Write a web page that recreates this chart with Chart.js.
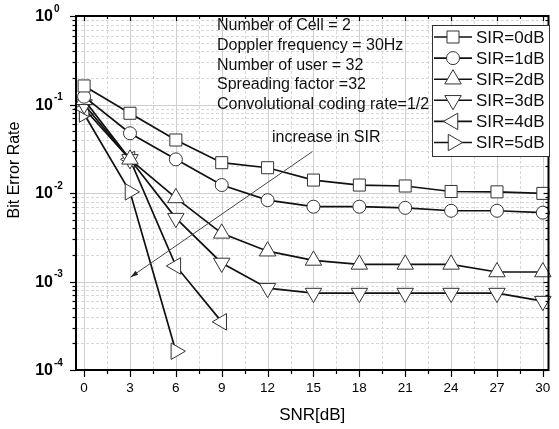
<!DOCTYPE html>
<html>
<head>
<meta charset="utf-8">
<script src="https://cdn.jsdelivr.net/npm/chart.js@4.4.1/dist/chart.umd.min.js"></script>
<style>
  html, body { margin: 0; padding: 0; background: #fff; }
  #wrap { width: 559px; height: 429px; position: relative; }
</style>
</head>
<body>
<div id="wrap"><canvas id="berChart"></canvas></div>
<script>
// SNR points (dB) and BER per SIR value
const snr = [0, 3, 6, 9, 12, 15, 18, 21, 24, 27, 30];
const sir0 = [0.162, 0.0796, 0.0397, 0.022, 0.0193, 0.014, 0.0123, 0.012, 0.0104, 0.0103, 0.0099];
const sir1 = [0.1225, 0.0473, 0.024, 0.0123, 0.0083, 0.0070, 0.0070, 0.0068, 0.0063, 0.0063, 0.0060];
const sir2 = [0.113, 0.024, 0.0088, 0.0035, 0.0022, 0.00173, 0.00156, 0.00156, 0.00156, 0.00128, 0.00128];
const sir3 = [0.1, 0.024, 0.0052, 0.00162, 0.00084, 0.00074, 0.00074, 0.00074, 0.00074, 0.00074, 0.0006];
const sir4 = [0.09, 0.024, 0.0015, 0.00035];
const sir5 = [0.078, 0.0103, 0.000163];

const seriesLabels = ['SIR=0dB', 'SIR=1dB', 'SIR=2dB', 'SIR=3dB', 'SIR=4dB', 'SIR=5dB'];
const seriesValues = [sir0, sir1, sir2, sir3, sir4, sir5];

const xTicks = [0, 3, 6, 9, 12, 15, 18, 21, 24, 27, 30];
const yDecades = [-4, -3, -2, -1, 0];

const infoLines = [
    'Number of Cell = 2',
    'Doppler frequency = 30Hz',
    'Number of user = 32',
    'Spreading factor =32',
    'Convolutional coding rate=1/2'
];
const arrowText = 'increase in SIR';

// marker look for each series
const markers = [
    { style: 'rect', rot: 0, r: 8.5 },
    { style: 'circle', rot: 0, r: 6.5 },
    { style: 'triangle', rot: 0, r: 9.5 },
    { style: 'triangle', rot: 180, r: 9.5 },
    { style: 'triangle', rot: 270, r: 9.5 },
    { style: 'triangle', rot: 90, r: 9.5 }
];

const FONT = '"Liberation Sans", Arial, Helvetica, sans-serif';

function drawMarker(ctx, m, x, y) {
    ctx.save();
    ctx.translate(x, y);
    ctx.rotate(m.rot * Math.PI / 180);
    ctx.beginPath();
    if (m.style === 'rect') {
        const s = m.r * Math.SQRT1_2;
        ctx.rect(-s, -s, 2 * s, 2 * s);
    } else if (m.style === 'circle') {
        ctx.arc(0, 0, m.r, 0, Math.PI * 2);
    } else {
        for (let k = 0; k < 3; k++) {
            const a = k * 2 * Math.PI / 3;
            const px = Math.sin(a) * m.r;
            const py = -Math.cos(a) * m.r;
            if (k === 0) ctx.moveTo(px, py); else ctx.lineTo(px, py);
        }
        ctx.closePath();
    }
    ctx.fillStyle = '#fff';
    ctx.fill();
    ctx.lineWidth = 1;
    ctx.strokeStyle = '#333';
    ctx.stroke();
    ctx.restore();
}

function minorXs() {
    const out = [];
    for (let v = 1.5; v < 30; v += 3) out.push(v);
    return out;
}
function minorYs() {
    const out = [];
    for (let e = -4; e < 0; e++) {
        for (let k = 2; k <= 9; k++) out.push(k * Math.pow(10, e));
    }
    return out;
}

const gridPlugin = {
    id: 'gridPlugin',
    beforeDatasetsDraw(chart) {
        const { ctx, chartArea: a, scales: { x, y } } = chart;
        ctx.save();
        ctx.lineWidth = 1;
        // minor dashed grid
        ctx.strokeStyle = '#d8d8d8';
        ctx.setLineDash([3, 2]);
        minorXs().forEach(v => {
            const px = Math.round(x.getPixelForValue(v)) + 0.5;
            ctx.beginPath(); ctx.moveTo(px, a.top); ctx.lineTo(px, a.bottom); ctx.stroke();
        });
        minorYs().forEach(v => {
            const py = Math.round(y.getPixelForValue(v)) + 0.5;
            ctx.beginPath(); ctx.moveTo(a.left, py); ctx.lineTo(a.right, py); ctx.stroke();
        });
        // major solid grid
        ctx.setLineDash([]);
        ctx.strokeStyle = '#cfcfcf';
        xTicks.forEach(v => {
            const px = Math.round(x.getPixelForValue(v)) + 0.5;
            ctx.beginPath(); ctx.moveTo(px, a.top); ctx.lineTo(px, a.bottom); ctx.stroke();
        });
        yDecades.forEach(e => {
            const py = Math.round(y.getPixelForValue(Math.pow(10, e))) + 0.5;
            ctx.beginPath(); ctx.moveTo(a.left, py); ctx.lineTo(a.right, py); ctx.stroke();
        });
        ctx.restore();
    }
};

const decorPlugin = {
    id: 'decorPlugin',
    afterDatasetsDraw(chart) {
        const { ctx, chartArea: a, scales: { x, y } } = chart;
        ctx.save();
        ctx.strokeStyle = '#000';
        ctx.fillStyle = '#000';

        // ticks
        ctx.lineWidth = 1.2;
        const tick = (x1, y1, x2, y2) => { ctx.beginPath(); ctx.moveTo(x1, y1); ctx.lineTo(x2, y2); ctx.stroke(); };
        xTicks.forEach(v => {
            const px = Math.round(x.getPixelForValue(v)) + 0.5;
            tick(px, a.bottom, px, a.bottom + 7);
            tick(px, a.top, px, a.top + 5);
        });
        minorXs().forEach(v => {
            const px = Math.round(x.getPixelForValue(v)) + 0.5;
            tick(px, a.bottom, px, a.bottom + 4);
            tick(px, a.top, px, a.top + 3);
        });
        yDecades.forEach(e => {
            const py = Math.round(y.getPixelForValue(Math.pow(10, e))) + 0.5;
            tick(a.left - 6, py, a.left, py);
            tick(a.right - 5, py, a.right, py);
        });
        minorYs().forEach(v => {
            const py = Math.round(y.getPixelForValue(v)) + 0.5;
            tick(a.left - 3.5, py, a.left, py);
            tick(a.right - 3, py, a.right, py);
        });

        // frame
        ctx.lineWidth = 2;
        ctx.strokeRect(a.left, a.top, a.right - a.left, a.bottom - a.top);

        // x tick labels
        ctx.font = '13.5px ' + FONT;
        ctx.textAlign = 'center';
        ctx.textBaseline = 'middle';
        xTicks.forEach(v => ctx.fillText(String(v), x.getPixelForValue(v), a.bottom + 18));

        // y tick labels 10^n
        yDecades.forEach(e => {
            const py = y.getPixelForValue(Math.pow(10, e));
            const exp = e === 0 ? '0' : '-' + Math.abs(e);
            ctx.textBaseline = 'middle';
            ctx.font = 'bold 16px ' + FONT;
            ctx.textAlign = 'right';
            ctx.fillText('10', 53, py + 1);
            ctx.font = 'bold 10px ' + FONT;
            ctx.textAlign = 'left';
            ctx.fillText(exp, 54, py - 7);
        });

        // axis titles
        ctx.font = '17px ' + FONT;
        ctx.textAlign = 'center';
        ctx.textBaseline = 'middle';
        ctx.fillText('SNR[dB]', (a.left + a.right) / 2, 415);
        ctx.save();
        ctx.translate(15, 170);
        ctx.rotate(-Math.PI / 2);
        ctx.font = '16px ' + FONT;
        ctx.fillText('Bit Error Rate', 0, 0);
        ctx.restore();

        // parameter text block
        ctx.font = '16px ' + FONT;
        ctx.textAlign = 'left';
        ctx.fillStyle = '#111';
        infoLines.forEach((t, i) => ctx.fillText(t, 217, 26 + i * 19.6));

        // arrow annotation
        ctx.fillText(arrowText, 272, 138);
        const ax1 = x.getPixelForValue(14.93), ay1 = y.getPixelForValue(0.0294);
        const ax2 = x.getPixelForValue(3.04), ay2 = y.getPixelForValue(0.00112);
        ctx.strokeStyle = '#444';
        ctx.lineWidth = 1;
        tick(ax1, ay1, ax2, ay2);
        const ang = Math.atan2(ay2 - ay1, ax2 - ax1);
        ctx.beginPath();
        ctx.moveTo(ax2, ay2);
        ctx.lineTo(ax2 - 8 * Math.cos(ang - 0.3), ay2 - 8 * Math.sin(ang - 0.3));
        ctx.lineTo(ax2 - 8 * Math.cos(ang + 0.3), ay2 - 8 * Math.sin(ang + 0.3));
        ctx.closePath();
        ctx.fillStyle = '#222';
        ctx.fill();

        // legend
        const lx = 432, ly = 25, lw = 117, lh = 131;
        ctx.fillStyle = '#fff';
        ctx.fillRect(lx, ly, lw, lh);
        ctx.strokeStyle = '#333';
        ctx.lineWidth = 1;
        ctx.strokeRect(lx + 0.5, ly + 0.5, lw, lh);
        ctx.font = '17px ' + FONT;
        ctx.textAlign = 'left';
        ctx.textBaseline = 'middle';
        seriesLabels.forEach((lab, i) => {
            const ry = ly + 12 + i * 21.1;
            ctx.strokeStyle = '#111';
            ctx.lineWidth = 1.6;
            tick(434, ry, 472, ry);
            drawMarker(ctx, markers[i], 453, ry);
            ctx.fillStyle = '#111';
            ctx.fillText(lab, 476, ry + 1);
        });
        ctx.restore();
    }
};

const datasets = seriesValues.map((vals, i) => ({
    label: seriesLabels[i],
    data: vals.map((v, j) => ({ x: snr[j], y: v })),
    borderColor: '#111',
    borderWidth: 1.7,
    pointStyle: markers[i].style,
    pointRotation: markers[i].rot,
    pointRadius: markers[i].r,
    pointBackgroundColor: '#fff',
    pointBorderColor: '#333',
    pointBorderWidth: 1,
    tension: 0,
    clip: false
}));

new Chart(document.getElementById('berChart').getContext('2d'), {
    type: 'line',
    data: { datasets },
    options: {
        responsive: true,
        maintainAspectRatio: false,
        devicePixelRatio: 1,
        animation: false,
        layout: { padding: { left: 76, top: 16, right: 2, bottom: 59 } },
        scales: {
            x: { type: 'linear', display: false, min: -0.53, max: 30.37 },
            y: { type: 'logarithmic', display: false, min: 1e-4, max: 1 }
        },
        plugins: {
            legend: { display: false },
            tooltip: { enabled: false }
        }
    },
    plugins: [gridPlugin, decorPlugin]
});
</script>
</body>
</html>
